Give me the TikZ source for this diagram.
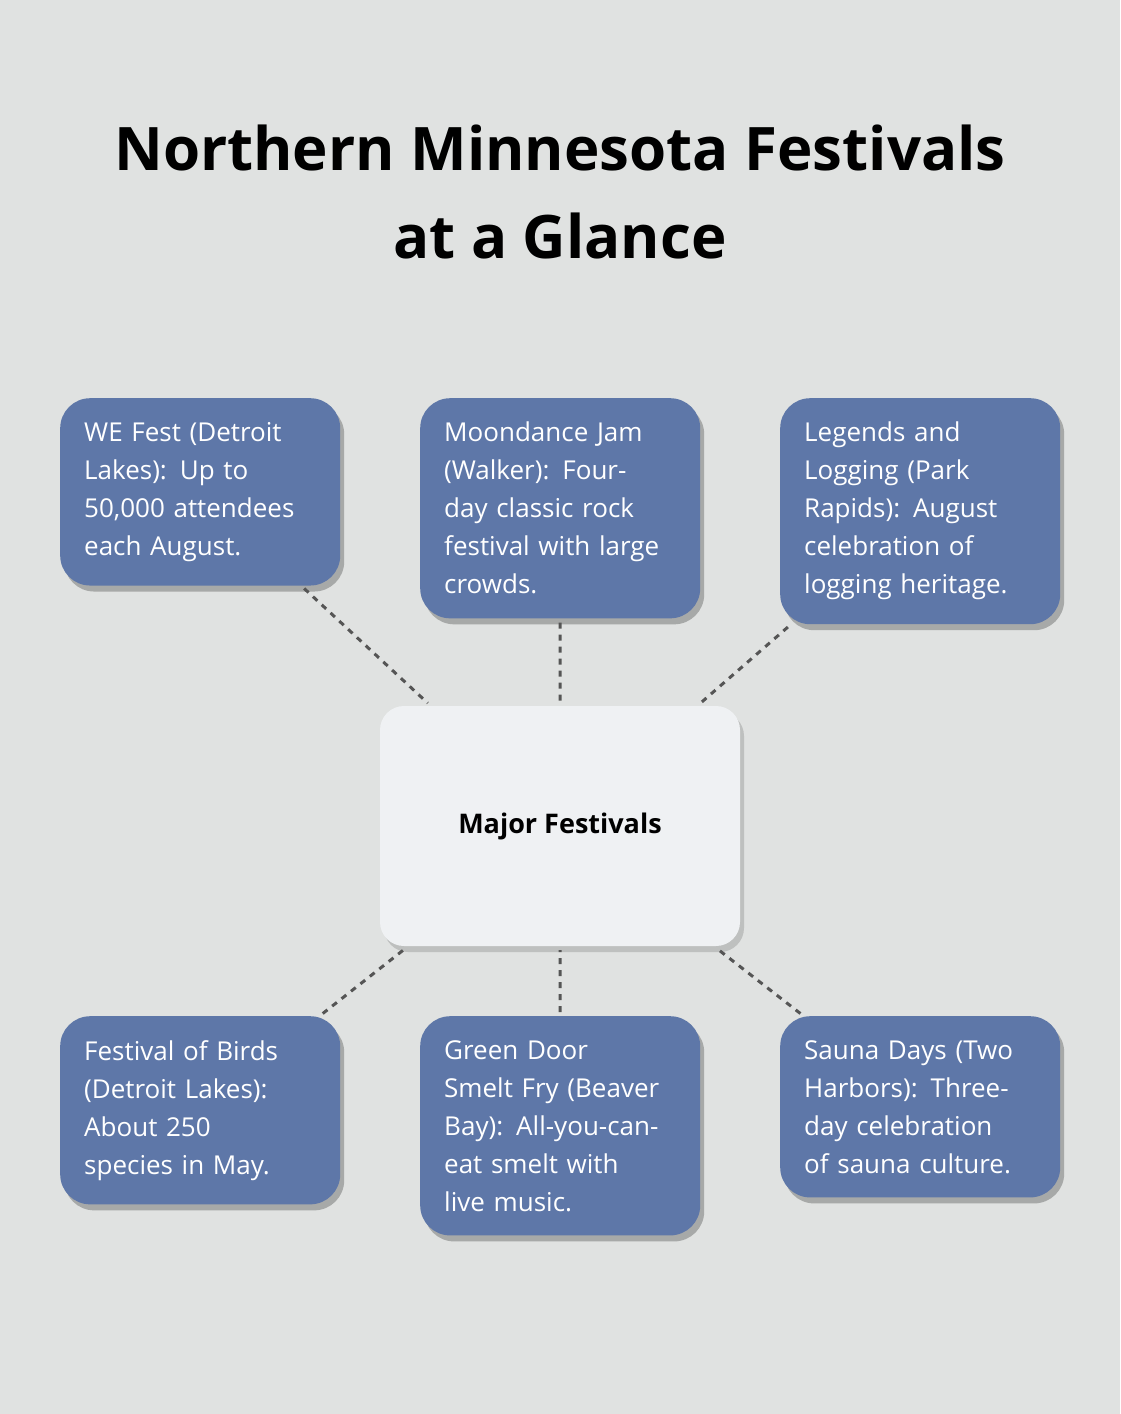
\documentclass[tikz,border=0pt]{standalone}
\usepackage{fontspec}
\setmainfont{Open Sans}
\usetikzlibrary{shadows}
\definecolor{bg}{HTML}{E0E2E1}
\definecolor{boxblue}{HTML}{5E77A8}
\definecolor{hubfill}{HTML}{EFF1F3}
\definecolor{dashgray}{HTML}{555555}
\begin{document}
\begin{tikzpicture}[x=1pt,y=-1pt,
  fest/.style={fill=boxblue,text=white,rounded corners=30pt,anchor=north west,
    minimum width=280pt,text width=232pt,inner xsep=24pt,inner ysep=24pt,align=left,
    font=\fontsize{26}{38}\selectfont,
    drop shadow={shadow xshift=4pt,shadow yshift=-6pt,opacity=0.25,fill=black}},
  hub/.style={fill=hubfill,rounded corners=24pt,minimum width=360pt,minimum height=240pt,
    font=\fontsize{27}{34}\selectfont\bfseries,
    drop shadow={shadow xshift=4pt,shadow yshift=-6pt,opacity=0.15,fill=black}},
  link/.style={dashgray,line width=3pt,dash pattern=on 6pt off 6pt,shorten <=4pt,shorten >=4pt}]

\fill[bg] (0,0) rectangle (1120,1414);

% title
\node[font=\fontsize{60}{88}\selectfont\bfseries,align=center] (title) at (560,192)
  {Northern Minnesota Festivals\\at a Glance};

% hub
\node[hub] (major) at (560,826) {Major Festivals};

% festivals
\node[fest] (wefest) at (60,398) {WE Fest (Detroit\\Lakes): Up to\\50,000 attendees\\each August.};
\node[fest] (moondance) at (420,398) {Moondance Jam\\(Walker): Four-\\day classic rock\\festival with large\\crowds.};
\node[fest] (legends) at (780,398) {Legends and\\Logging (Park\\Rapids): August\\celebration of\\logging heritage.};
\node[fest] (birds) at (60,1016) {Festival of Birds\\(Detroit Lakes):\\About 250\\species in May.};
\node[fest] (smelt) at (420,1016) {Green Door\\Smelt Fry (Beaver\\Bay): All-you-can-\\eat smelt with\\live music.};
\node[fest] (sauna) at (780,1016) {Sauna Days (Two\\Harbors): Three-\\day celebration\\of sauna culture.};

% connectors
\foreach \f in {wefest,moondance,legends,birds,smelt,sauna}
  \draw[link] (\f) -- (major);

\end{tikzpicture}
\end{document}
